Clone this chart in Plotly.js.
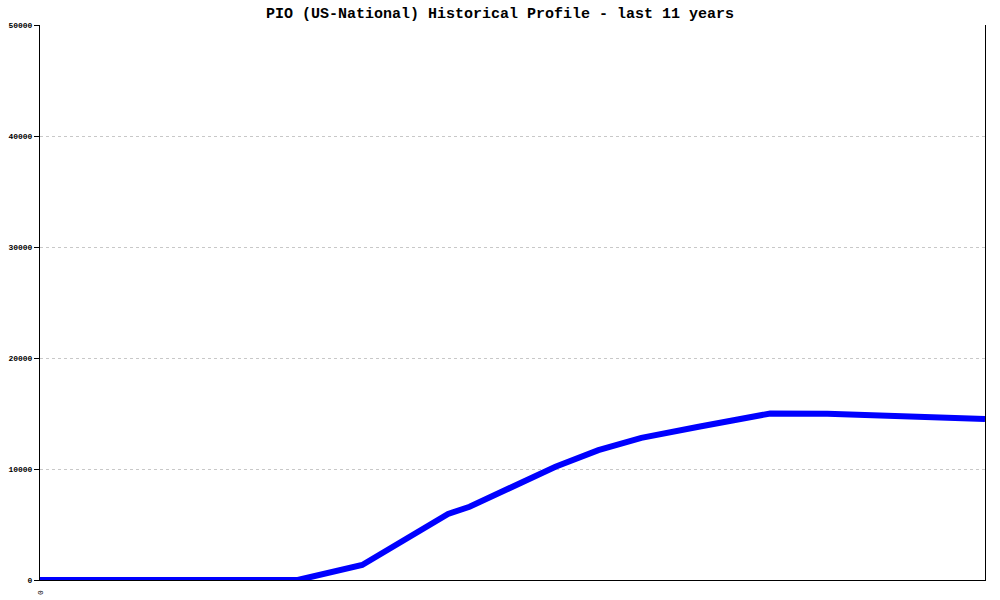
<!DOCTYPE html>
<html>
<head>
<meta charset="utf-8">
<script src="https://cdn.plot.ly/plotly-3.0.1.min.js"></script>
<style>html,body{margin:0;padding:0;background:#fff;}#chart{width:1000px;height:600px;}</style>
</head>
<body>
<div id="chart"></div>
<script>
// month index over the last 11 years (0..132)
const months = [0, 36, 45, 57, 60, 66, 72, 78, 84, 92, 102, 110, 120, 132];
const values = [0, 0, 1350, 5950, 6600, 8470, 10200, 11700, 12800, 13800, 15000, 14980, 14750, 14500];
const yTicks = [0, 10000, 20000, 30000, 40000, 50000];
const yTickText = ['0', '10000', '20000', '30000', '40000', '50000'];
const xTickVals = [0];
const xTickText = ['0'];
const titleText = 'PIO (US-National) Historical Profile - last 11 years';

const trace = {
  x: months, y: values, type: 'scatter', mode: 'lines',
  line: {color: '#0000ff', width: 6, shape: 'linear'},
  hoverinfo: 'skip'
};

const mono = 'Liberation Mono, DejaVu Sans Mono, monospace';
const layout = {
  width: 1000, height: 600,
  margin: {l: 40, r: 15, t: 25, b: 20, pad: 0},
  paper_bgcolor: '#ffffff', plot_bgcolor: '#ffffff',
  showlegend: false,
  title: {text: titleText, x: 0.5, xanchor: 'center', y: 0.978, yanchor: 'middle',
          font: {family: mono, size: 15, color: '#000', weight: 'bold'}},
  xaxis: {
    range: [0, 132], showgrid: false, zeroline: false,
    showline: true, linecolor: '#000', linewidth: 1, mirror: false,
    tickmode: 'array', tickvals: xTickVals, ticktext: xTickText,
    ticks: 'outside', ticklen: 6, tickcolor: 'rgba(0,0,0,0)', tickangle: -90,
    tickfont: {family: mono, size: 8, color: '#000'}
  },
  yaxis: {
    range: [0, 50000], tickmode: 'array', tickvals: yTicks, ticktext: yTickText,
    showgrid: true, gridcolor: '#c8c8c8', griddash: 'dot', gridwidth: 1,
    zeroline: false, showline: true, linecolor: '#000', linewidth: 1, mirror: true,
    ticks: 'outside', ticklen: 5, tickcolor: '#000',
    tickfont: {family: mono, size: 8, color: '#000', weight: 'bold'}
  }
};

Plotly.newPlot('chart', [trace], layout, {staticPlot: true, displayModeBar: false});
</script>
</body>
</html>
